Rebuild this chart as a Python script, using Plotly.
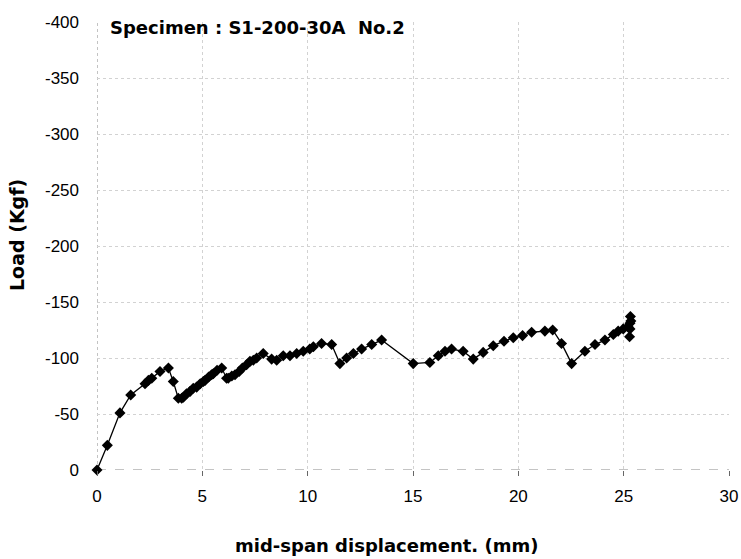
import plotly.graph_objects as go

# mid-span displacement (mm) and load (Kgf)
displacement = [
    0.0, 0.49, 1.09, 1.6, 2.28, 2.44, 2.6, 2.99, 3.39, 3.62, 3.86,
    4.02, 4.1, 4.25, 4.41, 4.57, 4.73, 4.9, 5.05, 5.13, 5.3, 5.44, 5.52,
    5.7, 5.92, 6.15, 6.23, 6.4, 6.55, 6.75, 6.9, 7.1, 7.26, 7.42, 7.58,
    7.89, 8.29, 8.53, 8.84, 9.16, 9.48, 9.79, 10.1, 10.27, 10.66, 11.14,
    11.53, 11.85, 12.17, 12.56, 13.04, 13.51,
    15.01, 15.8, 16.2, 16.52, 16.83, 17.38, 17.86, 18.33, 18.81, 19.32,
    19.76, 20.2, 20.63, 21.26, 21.63, 22.05, 22.53, 23.16, 23.64, 24.11,
    24.51, 24.74, 24.98, 25.2, 25.3, 25.32, 25.34, 25.3, 25.28,
]
load = [
    0, -22, -51, -67, -77, -80, -82, -88, -91, -79, -64,
    -64, -65, -68, -70, -73, -74, -77, -79, -80, -83, -85, -86,
    -89, -91, -82, -82, -84, -85, -88, -91, -94, -97, -98, -100,
    -104, -99, -98, -102, -102, -104, -106, -108, -110, -113, -112,
    -95, -100, -104, -108, -112, -116,
    -95, -96, -102, -106, -108, -106, -99, -105, -111, -115,
    -118, -120, -123, -124, -125, -113, -95, -106, -112, -116,
    -121, -124, -126, -128, -131, -137, -133, -126, -119,
]

x_ticks = [0, 5, 10, 15, 20, 25, 30]
y_ticks = [0, -50, -100, -150, -200, -250, -300, -350, -400]

fig = go.Figure()
fig.add_trace(go.Scatter(
    x=displacement, y=load, mode="lines+markers",
    line=dict(color="black", width=1.3),
    marker=dict(symbol="diamond", size=8.5, color="black"),
    showlegend=False, cliponaxis=False,
))

tick_font = "Liberation Sans, Arial, sans-serif"
label_font = "DejaVu Sans, Verdana, sans-serif"

fig.update_layout(
    width=741, height=559,
    margin=dict(l=97, r=12, t=22, b=89),
    paper_bgcolor="white", plot_bgcolor="white",
    font=dict(family=tick_font, size=17, color="black"),
    xaxis=dict(
        range=[0, 30], tickvals=x_ticks, ticktext=[str(v) for v in x_ticks],
        showgrid=True, gridcolor="#d2d2d2", griddash="dot", gridwidth=1,
        zeroline=False, showline=False, automargin=False,
        ticks="outside", ticklen=5, tickcolor="#666",
        tickfont=dict(size=17), ticklabelstandoff=6,
    ),
    yaxis=dict(
        range=[0, -400], tickvals=y_ticks, ticktext=[str(v) for v in y_ticks],
        showgrid=True, gridcolor="#d2d2d2", griddash="dot", gridwidth=1,
        zeroline=False, showline=False, automargin=False,
        ticks="", ticklabelstandoff=17,
        tickfont=dict(size=17),
    ),
    annotations=[
        dict(text="<b>Specimen : S1-200-30A  No.2</b>",
             xref="paper", yref="paper", x=(108 - 97) / 632, y=(470 - 28) / 448,
             xanchor="left", yanchor="middle", showarrow=False,
             font=dict(size=18, family=label_font)),
        dict(text="<b>Load (Kgf)</b>",
             xref="paper", yref="paper", x=(17 - 97) / 632, y=(470 - 235) / 448,
             xanchor="center", yanchor="middle", textangle=-90, showarrow=False,
             font=dict(size=19, family=label_font)),
        dict(text="<b>mid-span displacement. (mm)</b>",
             xref="paper", yref="paper", x=(386 - 97) / 632, y=(470 - 545) / 448,
             xanchor="center", yanchor="middle", showarrow=False,
             font=dict(size=18, family=label_font)),
    ],
    shapes=[
        # horizontal axis at zero load
        dict(type="line", xref="paper", yref="y", x0=0, x1=1, y0=0, y1=0,
             line=dict(color="#888", width=1, dash="dash"), layer="below"),
        # vertical axis at zero displacement
        dict(type="line", xref="x", yref="paper", x0=0, x1=0, y0=0, y1=1,
             line=dict(color="#888", width=1, dash="dot"), layer="below"),
    ],
)

fig.write_html("out.html")
